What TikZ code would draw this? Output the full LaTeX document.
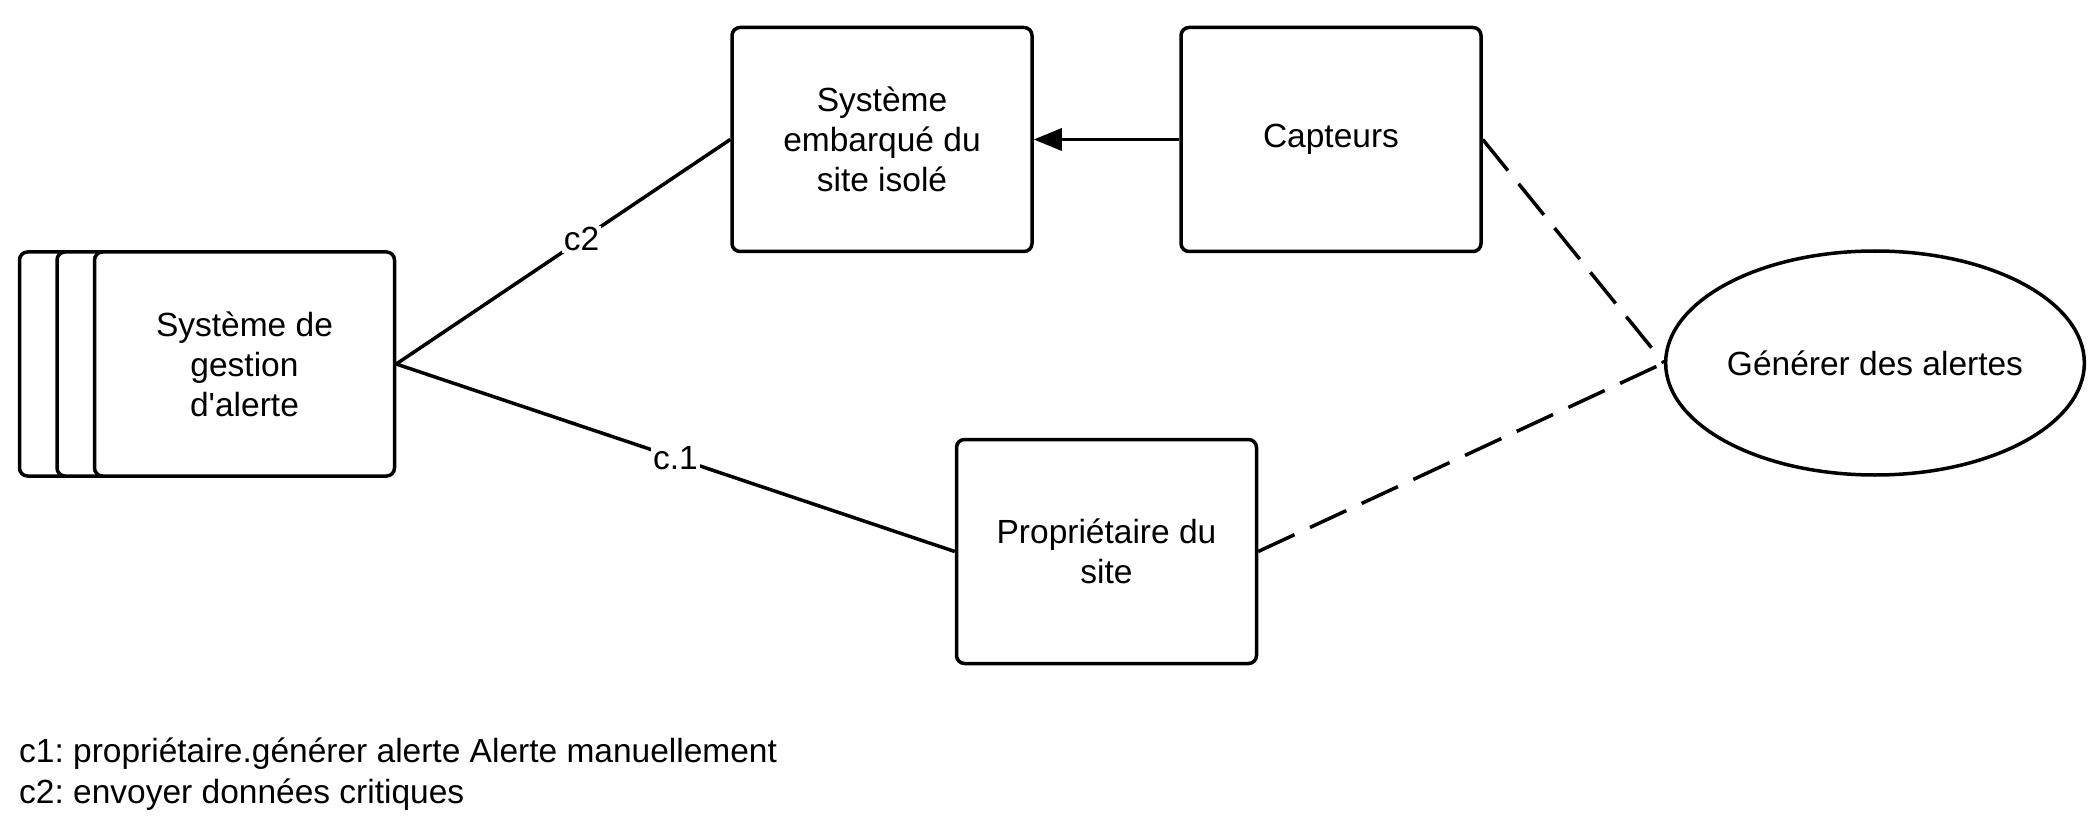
\documentclass[tikz,border=0pt]{standalone}
\usepackage{fontspec}
\newfontfamily\lsans{Liberation Sans}
\usetikzlibrary{shapes.geometric,arrows.meta}
\frenchspacing
\begin{document}
\begin{tikzpicture}[x=1pt,y=-1pt,
  every node/.style={font=\lsans\fontsize{33.5pt}{40pt}\selectfont},
  box/.style={draw,line width=3.5pt,rounded corners=8pt,minimum width=300pt,minimum height=224pt,align=center,fill=white,inner sep=0pt},
  oval/.style={draw,line width=3.5pt,ellipse,minimum width=412pt,minimum height=224pt,inner sep=0pt},
  conn/.style={line width=3.5pt},
  dashline/.style={line width=3.5pt,dash pattern=on 40pt off 17pt},
  lbl/.style={fill=white,inner sep=2pt}]
\useasboundingbox (0,0) rectangle (2098,818);
\node[box] (back) at (169.5,364) {};
\node[box] (mid) at (207,364) {};
\node[box] (sga) at (244.5,364) {Système de\\gestion\\d'alerte};
\node[box] (emb) at (882,139.5) {Système\\embarqué du\\site isolé};
\node[box] (capt) at (1331,139.5) {Capteurs};
\node[box] (prop) at (1106.5,551.5) {Propriétaire du\\site};
\node[oval] (gen) at (1875,363) {Générer des alertes};
\draw[conn,-{Triangle[length=28pt,width=22pt]}] (capt.west) -- (emb.east);
\draw[conn] (sga.east) -- node[lbl,pos=0.555] (lc2) {c2} (emb.west);
\draw[conn] (sga.east) -- node[lbl,pos=0.5] (lc1) {c.1} (prop.west);
\draw[dashline] (capt.east) -- (gen.west);
\draw[dashline] (prop.east) -- (gen.west);
\node[anchor=west,inner sep=0pt] (leg1) at (19,754) {c1: propriétaire.générer alerte Alerte manuellement};
\node[anchor=west,inner sep=0pt] (leg2) at (19,795) {c2: envoyer données critiques};
\end{tikzpicture}
\end{document}
